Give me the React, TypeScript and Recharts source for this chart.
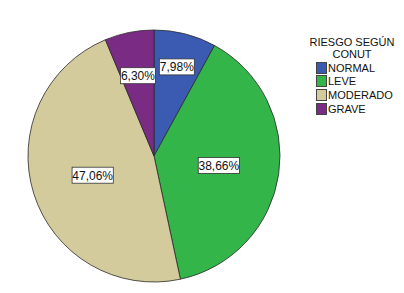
import { PieChart, Pie, Cell } from 'recharts';

const categories = ['NORMAL', 'LEVE', 'MODERADO', 'GRAVE'];
const percents = [7.98, 38.66, 47.06, 6.3];
const colors = ['#3b5bb3', '#33b54a', '#d3cb9b', '#7a2c84'];
const legendTitle = ['RIESGO SEGÚN', 'CONUT'];

const data = categories.map((name, i) => ({ name, value: percents[i] }));

const RADIAN = Math.PI / 180;
const FONT = '"Liberation Sans", Arial, sans-serif';
// how far out each label box sits, as a share of the radius
const labelRadius = [0.73, 0.52, 0.51, 0.65];

// white box label inside each slice
const renderLabel = (props: any) => {
  const { cx, cy, midAngle, outerRadius, value, index } = props;
  const r = outerRadius * labelRadius[index];
  const x = cx + r * Math.cos(-midAngle * RADIAN);
  const y = cy + r * Math.sin(-midAngle * RADIAN);
  const text = value.toFixed(2).replace('.', ',') + '%';
  const w = text.length * 6.2 + 4;
  const h = 16;
  return (
    <g>
      <rect x={x - w / 2} y={y - h / 2} width={w} height={h} fill="#ffffff" stroke="#333333" strokeWidth={0.8} />
      <text x={x} y={y + 4.3} textAnchor="middle" fontSize={12} fontFamily={FONT} fill="#111111">
        {text}
      </text>
    </g>
  );
};

const ChartLegend = () => (
  <div style={{ position: 'absolute', left: 306, top: 36, width: 92, fontFamily: FONT, fontSize: 11, color: '#111' }}>
    <div style={{ textAlign: 'center', lineHeight: '12px', marginBottom: 1 }}>
      {legendTitle.map((t) => (
        <div key={t}>{t}</div>
      ))}
    </div>
    {categories.map((c, i) => (
      <div key={c} style={{ display: 'flex', alignItems: 'center', height: 13.6, paddingLeft: 10 }}>
        <span
          style={{
            display: 'inline-block',
            width: 9,
            height: 10,
            background: colors[i],
            border: '1px solid #444',
            marginRight: 1,
          }}
        />
        <span>{c}</span>
      </div>
    ))}
  </div>
);

export default function App() {
  return (
    <div style={{ position: 'absolute', left: 0, top: 0, width: 404, height: 293, background: '#fff' }}>
      <PieChart width={404} height={293} margin={{ top: 0, right: 0, bottom: 0, left: 0 }}>
        <Pie
          data={data}
          dataKey="value"
          nameKey="name"
          cx={154}
          cy={156}
          outerRadius={126}
          startAngle={90}
          endAngle={-270}
          stroke="#2a2a2a"
          strokeWidth={0.8}
          label={renderLabel}
          labelLine={false}
          isAnimationActive={false}
        >
          {data.map((d, i) => (
            <Cell key={d.name} fill={colors[i]} />
          ))}
        </Pie>
      </PieChart>
      <ChartLegend />
    </div>
  );
}
